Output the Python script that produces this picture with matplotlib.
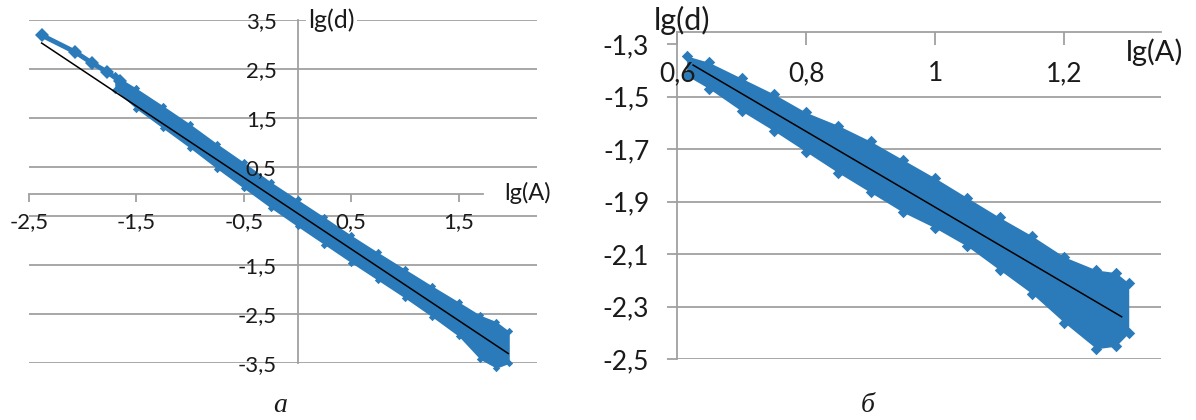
import matplotlib
matplotlib.use('Agg')
import matplotlib.pyplot as plt

# ---------------- Panel "а" data ----------------
a_xticks = [-2.5, -1.5, -0.5, 0.5, 1.5]
a_xticklabels = ['-2,5', '-1,5', '-0,5', '0,5', '1,5']
a_yticks = [3.5, 2.5, 1.5, 0.5, -0.5, -1.5, -2.5, -3.5]
a_yticklabels = ['3,5', '2,5', '1,5', '0,5', '', '-1,5', '-2,5', '-3,5']

a_sparse_x = [-2.38, -2.07, -1.91, -1.77, -1.65]
a_sparse_y = [3.19, 2.85, 2.62, 2.44, 2.25]

a_band_x = [-1.70, -1.50, -1.25, -1.00, -0.75, -0.50, -0.25, 0.00, 0.25,
            0.50, 0.75, 1.00, 1.25, 1.50, 1.70, 1.85, 1.97]
a_band_upper = [2.38, 2.11, 1.75, 1.38, 0.98, 0.60, 0.20, -0.16, -0.52,
                -0.89, -1.24, -1.58, -1.92, -2.25, -2.52, -2.65, -2.85]
a_band_lower = [2.08, 1.69, 1.29, 0.89, 0.47, 0.07, -0.33, -0.71, -1.08,
                -1.45, -1.81, -2.17, -2.55, -2.95, -3.42, -3.60, -3.50]

a_fit_x = [-2.38, 1.96]
a_fit_y = [3.03, -3.30]

# ---------------- Panel "б" data ----------------
b_xticks = [0.6, 0.8, 1.0, 1.2]
b_xticklabels = ['0,6', '0,8', '1', '1,2']
b_yticks = [-1.3, -1.5, -1.7, -1.9, -2.1, -2.3, -2.5]
b_yticklabels = ['-1,3', '-1,5', '-1,7', '-1,9', '-2,1', '-2,3', '-2,5']

b_band_x = [0.615, 0.65, 0.70, 0.75, 0.80, 0.85, 0.90, 0.95, 1.00,
            1.05, 1.10, 1.15, 1.20, 1.25, 1.28, 1.30]
b_band_upper = [-1.345, -1.37, -1.43, -1.49, -1.56, -1.61, -1.67, -1.74, -1.81,
                -1.885, -1.96, -2.03, -2.11, -2.16, -2.17, -2.21]
b_band_lower = [-1.42, -1.47, -1.555, -1.63, -1.71, -1.79, -1.865, -1.94, -2.00,
                -2.07, -2.16, -2.25, -2.36, -2.46, -2.45, -2.40]

b_fit_x = [0.625, 1.289]
b_fit_y = [-1.38, -2.338]

BLUE = '#2b7bba'
GRID = '#a0a0a0'
TXT = '#1a1a1a'
FONT = 'Lato'

W, H = 1196, 420
fig = plt.figure(figsize=(W / 100, H / 100), dpi=100)


def frac(x0, y0, x1, y1):
    return [x0 / W, 1 - y1 / H, (x1 - x0) / W, (y1 - y0) / H]


# ================= Panel а =================
axa = fig.add_axes(frac(28.75, 20, 536.7, 363.3))
axa.set_xlim(-2.5, 2.225)
axa.set_ylim(-3.5, 3.5)
for s in ['top', 'right']:
    axa.spines[s].set_visible(False)
axa.spines['left'].set_position(('data', 0))
axa.spines['bottom'].set_position(('data', -0.04))
axa.spines['bottom'].set_bounds(-2.5, 1.73)
for s in ['left', 'bottom']:
    axa.spines[s].set_color(GRID)
    axa.spines[s].set_linewidth(1.3)
    axa.spines[s].set_zorder(1.5)
axa.set_yticks(a_yticks)
axa.set_yticklabels(a_yticklabels)
axa.set_xticks(a_xticks)
axa.set_xticklabels(a_xticklabels)
axa.tick_params(axis='y', length=0, pad=15, labelsize=16, labelcolor=TXT)
axa.tick_params(axis='x', length=6, width=1.3, color=GRID, direction='out',
                pad=7, labelsize=16, labelcolor=TXT)
for lab in axa.get_xticklabels() + axa.get_yticklabels():
    lab.set_fontfamily(FONT)
for yv in a_yticks:
    axa.axhline(yv, color=GRID, lw=1.3, zorder=1)
axa.xaxis.set_zorder(5)
axa.yaxis.set_zorder(5)

axa.fill_between(a_band_x, a_band_lower, a_band_upper, color=BLUE, lw=0,
                 zorder=3, clip_on=False)
axa.scatter(a_band_x, a_band_upper, marker='D', s=14, color=BLUE, lw=0,
            zorder=3, clip_on=False)
axa.scatter(a_band_x, a_band_lower, marker='D', s=14, color=BLUE, lw=0,
            zorder=3, clip_on=False)
axa.plot(a_sparse_x, a_sparse_y, color=BLUE, lw=3.5, marker='D', ms=7,
         mec=BLUE, mew=0, zorder=3, clip_on=False)
axa.plot(a_fit_x, a_fit_y, color='black', lw=1.1, zorder=4)

axa.text(0.1, 3.5, 'lg(d)', fontsize=18, family=FONT, color=TXT, ha='left',
         va='center', zorder=6,
         bbox=dict(facecolor='white', edgecolor='none', pad=1.5))
axa.text(1.92, -0.02, 'lg(A)', fontsize=17, family=FONT, color=TXT, ha='left',
         va='center', zorder=6, clip_on=False)

fig.text(280 / W, 1 - 405 / H, 'а', fontsize=20, family='Liberation Serif',
         style='italic', ha='center', va='center', color=TXT)

# ================= Panel б =================
axb = fig.add_axes(frac(677, 32, 1161, 359.3))
axb.set_xlim(0.6, 1.35)
axb.set_ylim(-2.5, -1.254)
for s in ['top', 'right']:
    axb.spines[s].set_visible(False)
axb.spines['bottom'].set_position(('axes', 1.0))
for s in ['left', 'bottom']:
    axb.spines[s].set_color(GRID)
    axb.spines[s].set_linewidth(1.3)
    axb.spines[s].set_zorder(1.5)
axb.set_xticks(b_xticks)
axb.set_xticklabels(b_xticklabels)
axb.set_yticks(b_yticks)
axb.set_yticklabels(b_yticklabels)
axb.tick_params(axis='x', length=9, width=1.3, color=GRID, direction='out',
                pad=12, labelsize=19, labelcolor=TXT)
axb.tick_params(axis='y', length=7, width=1.3, color=GRID, direction='out',
                pad=13, labelsize=19, labelcolor=TXT)
for lab in axb.get_xticklabels() + axb.get_yticklabels():
    lab.set_fontfamily(FONT)
for yv in b_yticks[1:]:
    axb.axhline(yv, color=GRID, lw=1.3, zorder=1)
axb.xaxis.set_zorder(5)
axb.yaxis.set_zorder(5)

axb.fill_between(b_band_x, b_band_lower, b_band_upper, color=BLUE, lw=0, zorder=3)
axb.scatter(b_band_x, b_band_upper, marker='D', s=34, color=BLUE, lw=0, zorder=3)
axb.scatter(b_band_x, b_band_lower, marker='D', s=34, color=BLUE, lw=0, zorder=3)
axb.plot(b_fit_x, b_fit_y, color='black', lw=1.1, zorder=4)

axb.text(0.607, -1.21, 'lg(d)', fontsize=22, family=FONT, color=TXT,
         ha='center', va='center', zorder=6, clip_on=False)
axb.text(1.296, -1.33, 'lg(A)', fontsize=21, family=FONT, color=TXT,
         ha='left', va='center', zorder=6, clip_on=False)

fig.text(868 / W, 1 - 405 / H, 'б', fontsize=20, family='Liberation Serif',
         style='italic', ha='center', va='center', color=TXT)

fig.savefig('out.png', dpi=100, facecolor='white')
